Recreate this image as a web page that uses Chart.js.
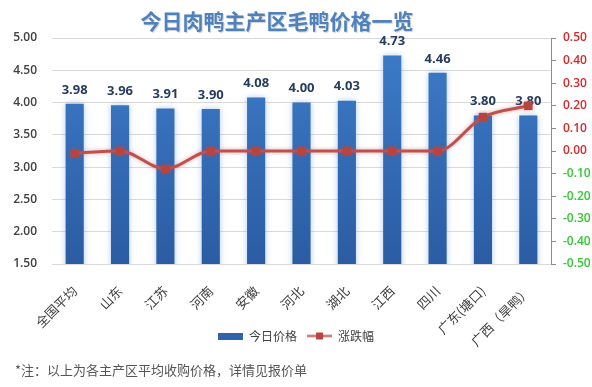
<!DOCTYPE html>
<html>
<head>
<meta charset="utf-8">
<script src="https://cdn.jsdelivr.net/npm/chart.js@4.4.1/dist/chart.umd.min.js"></script>
<style>
  html, body { margin: 0; padding: 0; background: #ffffff; }
  #wrap { position: relative; width: 592px; height: 387px; overflow: hidden; background: #fff; }
  #title { position: absolute; left: 0; top: 8px; width: 554px; text-align: center;
    font: bold 21px "Noto Sans CJK SC", sans-serif; line-height: 24px; color: #4f81bd;
    text-shadow: 1px 1px 1px rgba(0,0,0,0.18); }
  #note { position: absolute; left: 15px; top: 362px; font: 13px "Noto Sans CJK SC", sans-serif;
    line-height: 16px; color: #555555; }
  #c { position: absolute; left: 0; top: 0; }
</style>
</head>
<body>
<div id="wrap">
  <canvas id="c" width="592" height="387"></canvas>
  <div id="title">今日肉鸭主产区毛鸭价格一览</div>
  <div id="note">*注：以上为各主产区平均收购价格，详情见报价单</div>
</div>
<script>
const categories = ['全国平均', '山东', '江苏', '河南', '安徽', '河北', '湖北', '江西', '四川', '广东(塘口)', '广西（旱鸭）'];
const priceToday = [3.98, 3.96, 3.91, 3.90, 4.08, 4.00, 4.03, 4.73, 4.46, 3.80, 3.80];
const priceChange = [-0.01, 0.00, -0.08, 0.00, 0.00, 0.00, 0.00, 0.00, 0.00, 0.15, 0.20];
const seriesNames = ['今日价格', '涨跌幅'];

const BAR_TOP = '#3d7cc8';
const BAR_BOTTOM = '#2b5ca3';
const LINE_COLOR = '#c0504d';

function barGradient(ctx) {
  const chart = ctx.chart;
  const area = chart.chartArea;
  if (!area) return BAR_TOP;
  const g = chart.ctx.createLinearGradient(0, area.top, 0, area.bottom);
  g.addColorStop(0, BAR_TOP);
  g.addColorStop(1, BAR_BOTTOM);
  return g;
}

function makeBarSymbol() {
  const c = document.createElement('canvas');
  c.width = 25; c.height = 7;
  const x = c.getContext('2d');
  x.fillStyle = '#2f64ad';
  x.fillRect(0, 0, 25, 7);
  return c;
}
function makeLineSymbol() {
  const c = document.createElement('canvas');
  c.width = 25; c.height = 9;
  const x = c.getContext('2d');
  x.strokeStyle = LINE_COLOR;
  x.lineWidth = 2;
  x.beginPath(); x.moveTo(0, 4.5); x.lineTo(25, 4.5); x.stroke();
  x.fillStyle = '#b7443f';
  x.fillRect(9, 1, 7, 7);
  return c;
}
const legendSymbols = [makeBarSymbol(), makeLineSymbol()];

const glowPlugin = {
  id: 'glow',
  beforeDatasetDraw(chart, args) {
    const ctx = chart.ctx;
    ctx.save();
    if (args.meta.type === 'bar') {
      ctx.shadowColor = 'rgba(110,160,225,0.55)';
      ctx.shadowBlur = 6;
    } else {
      ctx.shadowColor = 'rgba(192,80,77,0.45)';
      ctx.shadowBlur = 4;
    }
  },
  afterDatasetDraw(chart, args) {
    chart.ctx.restore();
    if (args.meta.type !== 'bar') return;
    const ctx = chart.ctx;
    const ds = chart.data.datasets[args.index];
    ctx.save();
    ctx.font = 'bold 13px "Open Sans", sans-serif';
    ctx.fillStyle = '#263c5e';
    ctx.textAlign = 'center';
    ctx.textBaseline = 'middle';
    args.meta.data.forEach((el, i) => {
      ctx.fillText(ds.data[i].toFixed(2), el.x, el.y - 14);
    });
    ctx.restore();
  }
};

new Chart(document.getElementById('c'), {
  data: {
    labels: categories,
    datasets: [
      {
        type: 'bar',
        label: seriesNames[0],
        data: priceToday,
        yAxisID: 'y',
        backgroundColor: barGradient,
        barPercentage: 0.4,
        categoryPercentage: 1.0,
        order: 2
      },
      {
        type: 'line',
        label: seriesNames[1],
        data: priceChange,
        yAxisID: 'y1',
        borderColor: LINE_COLOR,
        backgroundColor: '#b7443f',
        borderWidth: 3,
        pointStyle: 'rect',
        pointRadius: 6,
        pointBorderWidth: 0,
        cubicInterpolationMode: 'monotone',
        tension: 0.4,
        order: 1
      }
    ]
  },
  options: {
    responsive: false,
    animation: false,
    events: [],
    layout: { padding: { top: 38, left: 0, right: 0, bottom: 35 } },
    scales: {
      x: {
        grid: { display: false, drawTicks: false },
        border: { display: false },
        ticks: {
          autoSkip: false,
          maxRotation: 45,
          minRotation: 45,
          padding: 19,
          color: '#404040',
          font: { size: 13, family: '"Noto Sans CJK SC", sans-serif' }
        },
        afterFit(scale) {
          scale.height = 56;
          // let the rotated labels run past the shortened axis box
          scale._computeLabelArea = function () { return undefined; };
        }
      },
      y: {
        position: 'left',
        min: 1.5,
        max: 5.0,
        grid: { color: '#d9d9d9', drawTicks: false, lineWidth: 1 },
        border: { display: false },
        ticks: {
          stepSize: 0.5,
          padding: 15,
          color: '#404040',
          font: { size: 12, family: '"Open Sans", sans-serif', weight: '600' },
          callback: v => Number(v).toFixed(2)
        },
        afterFit(scale) { scale.width = 52; }
      },
      y1: {
        position: 'right',
        min: -0.5,
        max: 0.5,
        grid: { drawOnChartArea: false, drawTicks: true, tickLength: 5, color: '#8c8c8c' },
        border: { display: true, color: '#8c8c8c' },
        ticks: {
          stepSize: 0.1,
          padding: 7,
          color: ctx => (ctx.tick && ctx.tick.value < -0.001) ? '#33c733' : '#d42a2a',
          font: { size: 12, family: '"Open Sans", sans-serif', weight: '600' },
          callback: v => Number(v).toFixed(2)
        },
        afterFit(scale) { scale.width = 41; }
      }
    },
    plugins: {
      title: { display: false },
      tooltip: { enabled: false },
      legend: {
        display: true,
        position: 'bottom',
        labels: {
          usePointStyle: true,
          pointStyleWidth: 25,
          padding: 10,
          color: '#404040',
          font: { size: 12, family: '"Noto Sans CJK SC", sans-serif' },
          generateLabels(chart) {
            return seriesNames.map((name, i) => ({
              text: name,
              pointStyle: legendSymbols[i],
              fillStyle: 'transparent',
              strokeStyle: 'transparent',
              lineWidth: 0,
              fontColor: '#404040',
              datasetIndex: i,
              hidden: false
            }));
          }
        }
      }
    }
  },
  plugins: [glowPlugin]
});
</script>
</body>
</html>
